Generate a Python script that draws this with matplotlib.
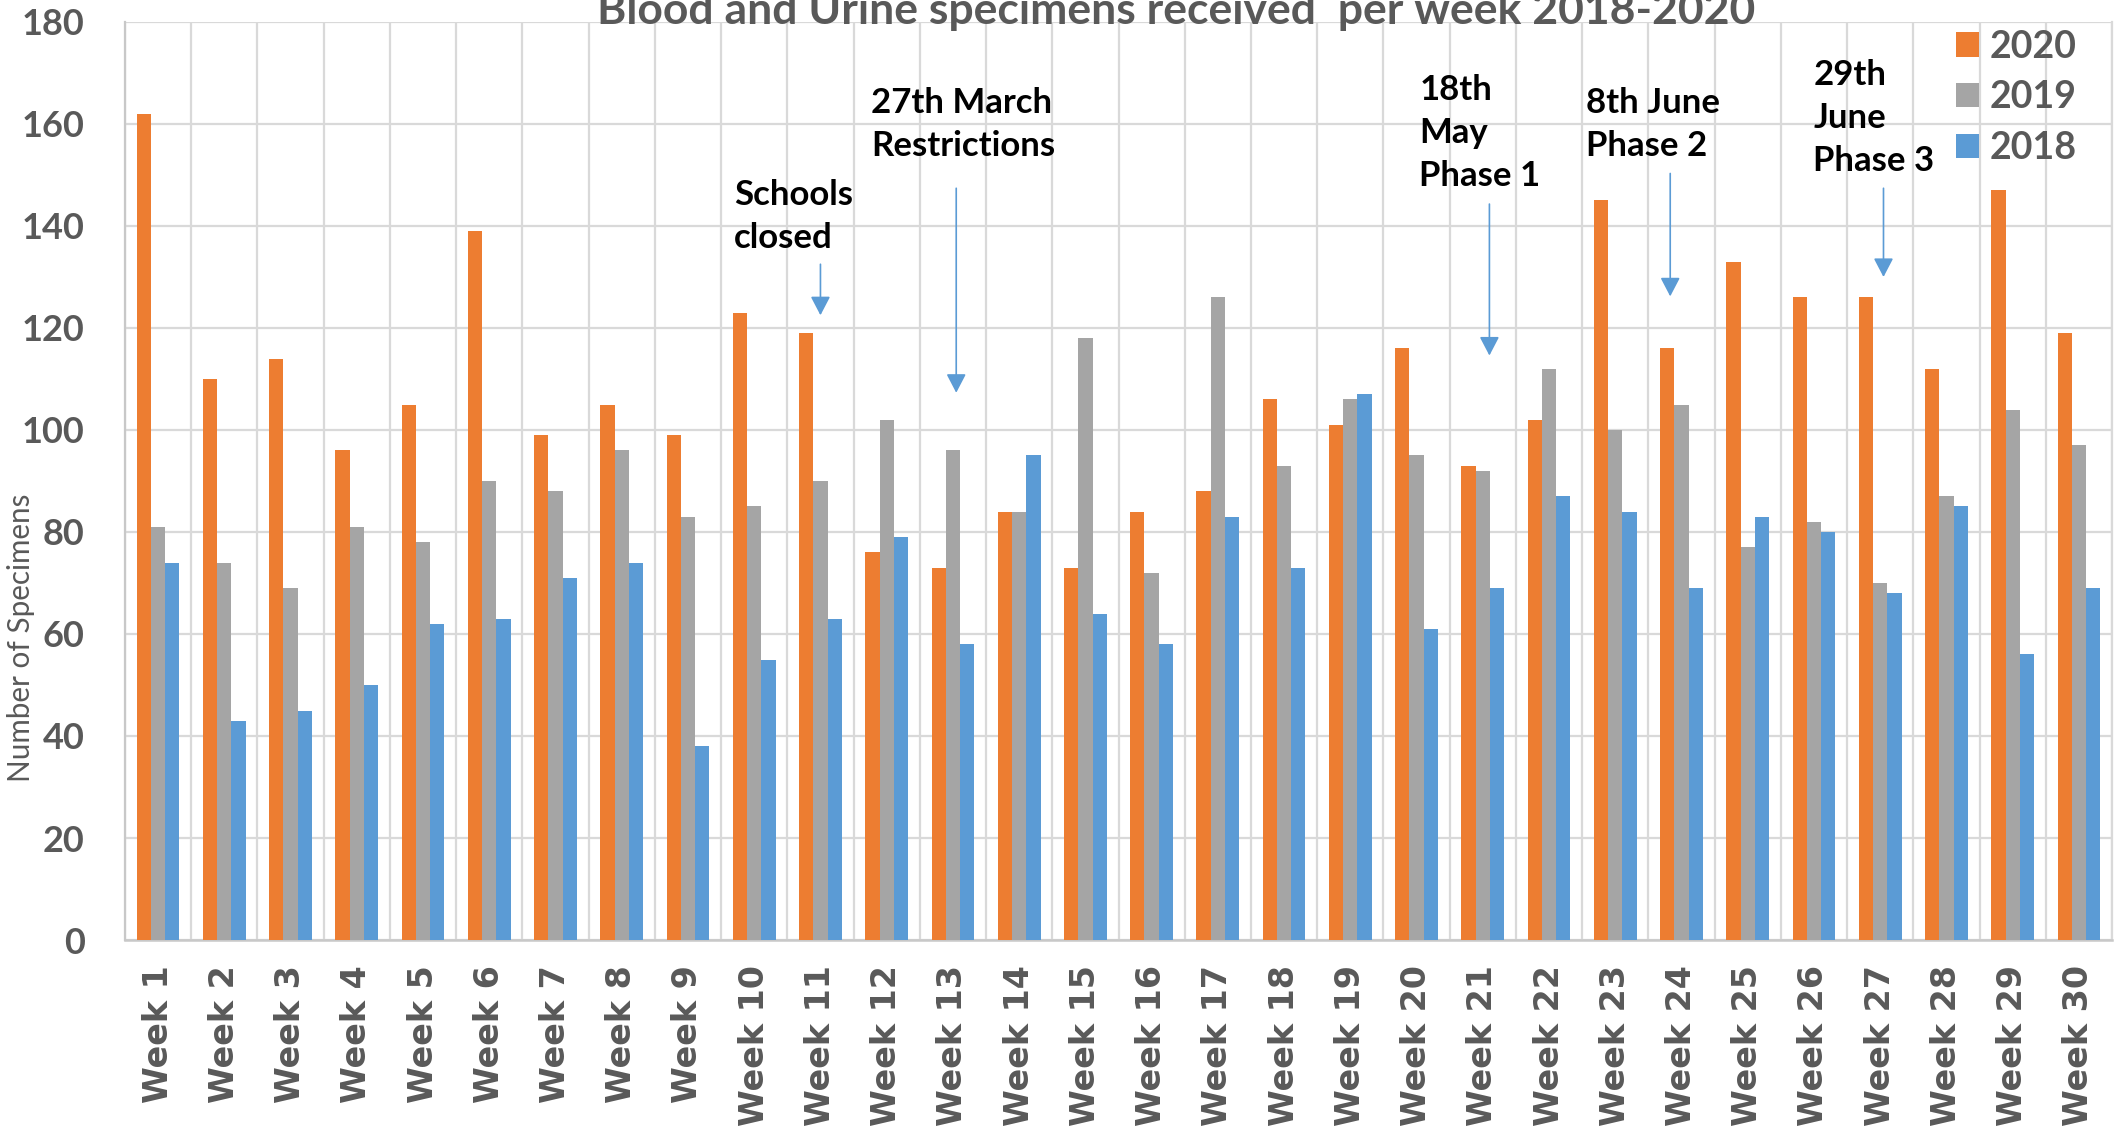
import matplotlib
matplotlib.use("Agg")
import matplotlib.pyplot as plt
import numpy as np
from matplotlib.patches import Patch

# ---------------- data ----------------
weeks = ["Week 1", "Week 2", "Week 3", "Week 4", "Week 5", "Week 6", "Week 7", "Week 8",
         "Week 9", "Week 10", "Week 11", "Week 12", "Week 13", "Week 14", "Week 15",
         "Week 16", "Week 17", "Week 18", "Week 19", "Week 20", "Week 21", "Week 22",
         "Week 23", "Week 24", "Week 25", "Week 26", "Week 27", "Week 28", "Week 29",
         "Week 30"]
v2020 = [162, 110, 114, 96, 105, 139, 99, 105, 99, 123, 119, 76, 73, 84, 73,
         84, 88, 106, 101, 116, 93, 102, 145, 116, 133, 126, 126, 112, 147, 119]
v2019 = [81, 74, 69, 81, 78, 90, 88, 96, 83, 85, 90, 102, 96, 84, 118,
         72, 126, 93, 106, 95, 92, 112, 100, 105, 77, 82, 70, 87, 104, 97]
v2018 = [74, 43, 45, 50, 62, 63, 71, 74, 38, 55, 63, 79, 58, 95, 64,
         58, 83, 73, 107, 61, 69, 87, 84, 69, 83, 80, 68, 85, 56, 69]
series_labels = ["2020", "2019", "2018"]
yticks = [0, 20, 40, 60, 80, 100, 120, 140, 160, 180]

title = "Blood and Urine specimens received  per week 2018-2020"
ylabel = "Number of Specimens"

ann_texts = ["Schools\nclosed", "27th March\nRestrictions", "18th\nMay\nPhase 1",
             "8th June\nPhase 2", "29th\nJune\nPhase 3"]
ann_text_x = [8.70, 10.76, 19.04, 21.56, 24.99]
ann_text_y = [141.9, 159.9, 158.3, 159.9, 161.2]
arrow_x = [10.0, 12.05, 20.1, 22.83, 26.05]
arrow_y_from = [132.5, 147.4, 144.3, 150.3, 147.4]
arrow_y_to = [122.5, 107.3, 114.6, 126.2, 130.0]

# ---------------- style ----------------
C_ORANGE = "#ED7D31"
C_GRAY = "#A5A5A5"
C_BLUE = "#5B9BD5"
C_TEXT = "#595959"
C_GRID = "#D9D9D9"
BOLD_FAM = ["Lato", "DejaVu Sans"]

fig = plt.figure(figsize=(21.25, 11.3), dpi=100)
W, H = 2125, 1130
left_px, right_px, top_px, bot_px = 125, 2112, 22, 940
ax = fig.add_axes([left_px / W, 1 - bot_px / H,
                   (right_px - left_px) / W, (bot_px - top_px) / H])

x = np.arange(len(weeks))
bw = 0.215
colors = [C_ORANGE, C_GRAY, C_BLUE]
for i, (vals, col, lab) in enumerate(zip([v2020, v2019, v2018], colors, series_labels)):
    ax.bar(x + (i - 1) * bw, vals, width=bw, color=col, label=lab, zorder=3)

ax.set_xlim(-0.5, len(weeks) - 0.5)
ax.set_ylim(0, 180)
ax.set_yticks(yticks)
ax.set_yticklabels([str(t) for t in yticks], fontsize=26, fontweight="bold",
                   color=C_TEXT, family=BOLD_FAM)
ax.set_xticks(x)
ax.set_xticklabels(weeks, rotation=90, fontsize=24, fontweight="bold",
                   color=C_TEXT, family=["DejaVu Sans"])
ax.tick_params(axis="y", length=0, pad=29)
ax.tick_params(axis="x", length=0, pad=18)

# gridlines
ax.set_axisbelow(True)
ax.yaxis.grid(True, color=C_GRID, linewidth=1.6, zorder=0)
ax.set_xticks(np.arange(-0.5, len(weeks), 1.0), minor=True)
ax.tick_params(axis="x", which="minor", length=0)
ax.xaxis.grid(True, which="minor", color=C_GRID, linewidth=1.6, zorder=0)
ax.xaxis.grid(False, which="major")

ax.spines["top"].set_visible(False)
ax.spines["right"].set_color(C_GRID)
ax.spines["right"].set_linewidth(1.6)
ax.spines["left"].set_color("#C8C8C8")
ax.spines["left"].set_linewidth(1.6)
ax.spines["bottom"].set_color("#C8C8C8")
ax.spines["bottom"].set_linewidth(1.8)

ax.set_ylabel(ylabel, fontsize=21.3, color=C_TEXT, family=["Lato", "DejaVu Sans"],
              ha="center", va="center")
ax.yaxis.set_label_coords((21.5 - left_px) / (right_px - left_px),
                          (bot_px - 638) / (bot_px - top_px))

# title (partly clipped at the top, as in the reference)
fig.text(1176 / W, 1 - 24 / H, title, ha="center", va="baseline",
         fontsize=32, fontweight="bold", color=C_TEXT, family=BOLD_FAM)

# annotations
for t, tx, ty in zip(ann_texts, ann_text_x, ann_text_y):
    ax.text(tx, ty, t, ha="left", va="center", fontsize=25, fontweight="bold",
            color="black", family=BOLD_FAM, linespacing=1.42, zorder=5)
for axx, y0, y1 in zip(arrow_x, arrow_y_from, arrow_y_to):
    ax.annotate("", xy=(axx, y1), xytext=(axx, y0),
                arrowprops=dict(arrowstyle="-|>,head_length=1.15,head_width=0.6",
                                color=C_BLUE, lw=1.2, shrinkA=0, shrinkB=0,
                                mutation_scale=10),
                zorder=5)

# legend
handles = [Patch(facecolor=c, edgecolor="none") for c in colors]
leg = ax.legend(handles, series_labels, loc="upper left",
                bbox_to_anchor=((1956 - left_px) / (right_px - left_px), 0.9917),
                frameon=False, borderpad=0, borderaxespad=0,
                handlelength=0.62, handleheight=0.62, handletextpad=0.27,
                labelspacing=0.45,
                prop=dict(family=BOLD_FAM, weight="bold", size=27))
for txt in leg.get_texts():
    txt.set_color(C_TEXT)

fig.savefig("out.png", dpi=100)
